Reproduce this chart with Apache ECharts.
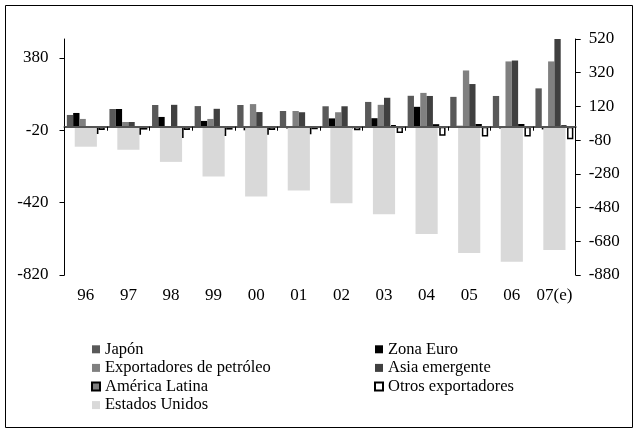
<!doctype html>
<html>
	<head>
		<meta charset="UTF-8">
		<title>Saldo por cuenta corriente</title>
		<style>
			html, body {
				margin: 0;
				padding: 0;
				background: #fff;
			}
			#chart {
				width: 638px;
				height: 433px;
			}
		</style>
	</head>
	<body>
		<div id="chart"></div>
		<script src="https://cdn.jsdelivr.net/npm/echarts@6/dist/echarts.min.js"></script>
		<script type="text/javascript">
			// datos (eje izq: todos menos EE.UU., eje dcho: EE.UU.)
			var years = ['96', '97', '98', '99', '00', '01', '02', '03', '04', '05', '06', '07(e)'];
			var japon = [65, 98, 120, 114, 120, 87, 113, 137, 171, 165, 170, 212];
			var zonaEuro = [76, 98, 54, 32, -20, -10, 46, 47, 110, 5, -10, -15];
			var exportPetroleo = [43, 26, -30, 43, 125, 87, 80, 121, 187, 311, 361, 361];
			var asiaEmergente = [-40, 26, 121, 99, 81, 80, 113, 160, 170, 236, 366, 500];
			var americaLatina = [-40, -45, -62, -52, -45, -42, -10, 8, 14, 15, 15, 5];
			var otrosExport = [-18, -16, -18, -16, -18, -14, -20, -35, -50, -54, -54, -70];
			var estadosUnidos = [-119, -137, -209, -296, -414, -378, -455, -519, -637, -749, -802, -731];
			var leftTicks = [-820, -420, -20, 380];

			var font = "'Liberation Serif', 'Times New Roman', serif";

			function barSerie(name, data, color, borderColor, borderWidth) {
				return {
					name: name,
					type: 'bar',
					xAxisIndex: 0,
					yAxisIndex: 0,
					barGap: '0%',
					barCategoryGap: '11%',
					data: data,
					itemStyle: {
						color: color,
						borderColor: borderColor || color,
						borderWidth: borderWidth || 0
					}
				};
			}

			var series = [
				barSerie('Japón', japon, '#595959'),
				barSerie('Zona Euro', zonaEuro, '#000000'),
				barSerie('Exportadores de petróleo', exportPetroleo, '#808080'),
				barSerie('Asia emergente', asiaEmergente, '#404040'),
				barSerie('América Latina', americaLatina, '#7f7f7f', '#000000', 2),
				barSerie('Otros exportadores', otrosExport, '#ffffff', '#000000', 1.5),
				{
					name: 'Estados Unidos',
					type: 'bar',
					xAxisIndex: 1,
					yAxisIndex: 1,
					barCategoryGap: '48%',
					z: 3,
					data: estadosUnidos,
					itemStyle: { color: '#d9d9d9' }
				}
			];

			var legendText = { fontFamily: font, fontSize: 16.5, lineHeight: 18.6, color: '#000' };
			var axisText = { fontFamily: font, fontSize: 17, color: '#000' };

			var option = {
				animation: false,
				backgroundColor: '#fff',
				grid: { left: 64.5, right: 62.3, top: 39, bottom: 158 },
				legend: [{
					data: ['Japón', 'Exportadores de petróleo', 'América Latina', 'Estados Unidos'],
					orient: 'vertical',
					left: 91,
					top: 340,
					padding: 0,
					icon: 'rect',
					itemWidth: 8,
					itemHeight: 8,
					itemGap: 0,
					selectedMode: false,
					textStyle: legendText
				}, {
					data: ['Zona Euro', 'Asia emergente', 'Otros exportadores'],
					orient: 'vertical',
					left: 374,
					top: 340,
					padding: 0,
					icon: 'rect',
					itemWidth: 8,
					itemHeight: 8,
					itemGap: 0,
					selectedMode: false,
					textStyle: legendText
				}],
				xAxis: [{
					type: 'category',
					data: years,
					position: 'bottom',
					z: 5,
					axisLine: { onZero: true, onZeroAxisIndex: 0, lineStyle: { color: '#555', width: 2 } },
					axisTick: { show: true, length: 4, interval: 0, lineStyle: { color: '#000', width: 1 } },
					axisLabel: { show: false },
					splitLine: { show: false }
				}, {
					type: 'category',
					data: years,
					position: 'bottom',
					axisLine: { show: false, onZero: false },
					axisTick: { show: false },
					axisLabel: Object.assign({ margin: 12, interval: 0 }, axisText),
					splitLine: { show: false }
				}],
				yAxis: [{
					type: 'value',
					position: 'left',
					min: -820,
					max: 485,
					axisLine: { show: true, lineStyle: { color: '#000' } },
					axisTick: { show: true, length: 5, customValues: leftTicks, lineStyle: { color: '#000' } },
					axisLabel: Object.assign({ margin: 16, customValues: leftTicks }, axisText),
					splitLine: { show: false }
				}, {
					type: 'value',
					position: 'right',
					min: -880,
					max: 520,
					interval: 200,
					axisLine: { show: true, lineStyle: { color: '#000' } },
					axisTick: { show: true, length: 5, lineStyle: { color: '#000' } },
					axisLabel: Object.assign({ margin: 13 }, axisText),
					splitLine: { show: false }
				}],
				graphic: [{
					type: 'rect',
					shape: { x: 5.5, y: 5.5, width: 627, height: 422 },
					style: { fill: 'none', stroke: '#000', lineWidth: 1 },
					silent: true
				}],
				series: series
			};

			var chart = echarts.init(document.getElementById('chart'));
			chart.setOption(option);
		</script>
	</body>
</html>
